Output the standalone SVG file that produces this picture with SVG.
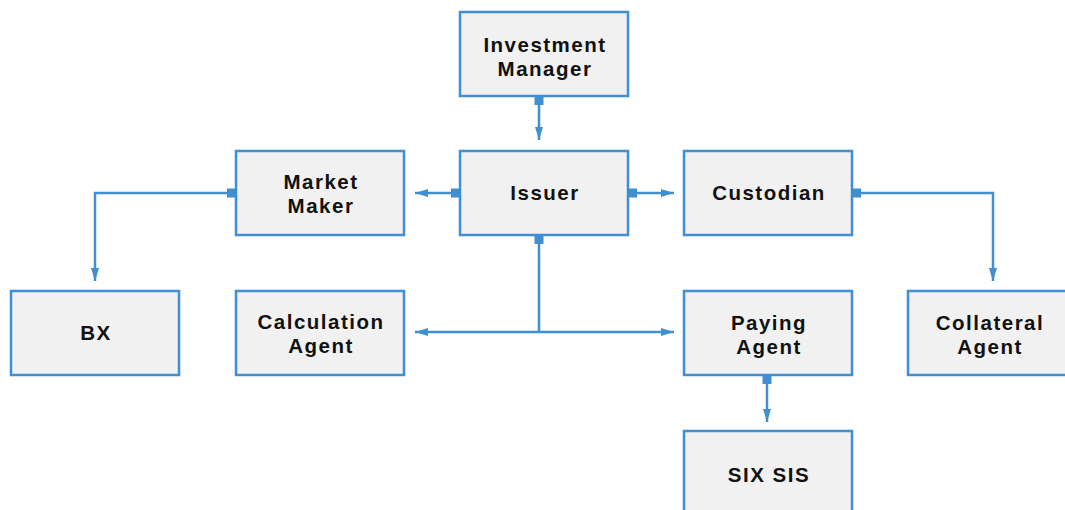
<svg xmlns="http://www.w3.org/2000/svg" width="1065" height="510" viewBox="0 0 1065 510">
<style>
.box{fill:#f1f1f1;stroke:#3f8fd2;stroke-width:2.5}
.t{font-family:"Liberation Sans",Arial,sans-serif;font-weight:bold;font-size:20.5px;letter-spacing:1.5px;fill:#111;text-anchor:middle}
.c{fill:none;stroke:#3f8fd2;stroke-width:2.5}
.sq{fill:#3f8fd2}
</style>
<defs>
<marker id="ah" markerUnits="userSpaceOnUse" markerWidth="14" markerHeight="10" refX="13" refY="5" orient="auto">
<path d="M0,1 L13,5 L0,9 Z" fill="#3f8fd2"/>
</marker>
</defs>
<rect width="1065" height="510" fill="#fff"/>
<g id="connectors">
<path class="c" d="M539,104 V140" marker-end="url(#ah)"/>
<path class="c" d="M451,193 H415" marker-end="url(#ah)"/>
<path class="c" d="M637,193 H674" marker-end="url(#ah)"/>
<path class="c" d="M539,244 V332"/>
<path class="c" d="M539,332 H415" marker-end="url(#ah)"/>
<path class="c" d="M539,332 H674" marker-end="url(#ah)"/>
<path class="c" d="M227,193 H95 V281" marker-end="url(#ah)"/>
<path class="c" d="M861,193 H993 V281" marker-end="url(#ah)"/>
<path class="c" d="M767,384 V422" marker-end="url(#ah)"/>
<rect class="sq" x="534.5" y="96" width="9" height="9"/>
<rect class="sq" x="451" y="188.5" width="9" height="9"/>
<rect class="sq" x="628" y="188.5" width="9" height="9"/>
<rect class="sq" x="534.5" y="235" width="9" height="9"/>
<rect class="sq" x="227" y="188.5" width="9" height="9"/>
<rect class="sq" x="852" y="188.5" width="9" height="9"/>
<rect class="sq" x="762.5" y="375" width="9" height="9"/>
</g>
<g id="investment-manager"><rect class="box" x="460" y="12" width="168" height="84"/><text class="t" x="545" y="52">Investment</text><text class="t" x="545" y="76">Manager</text></g>
<g id="issuer"><rect class="box" x="460" y="151" width="168" height="84"/><text class="t" x="545" y="200">Issuer</text></g>
<g id="market-maker"><rect class="box" x="236" y="151" width="168" height="84"/><text class="t" x="321" y="189">Market</text><text class="t" x="321" y="213">Maker</text></g>
<g id="custodian"><rect class="box" x="684" y="151" width="168" height="84"/><text class="t" x="769" y="200">Custodian</text></g>
<g id="bx"><rect class="box" x="11" y="291" width="168" height="84"/><text class="t" x="96" y="340">BX</text></g>
<g id="calculation-agent"><rect class="box" x="236" y="291" width="168" height="84"/><text class="t" x="321" y="329">Calculation</text><text class="t" x="321" y="353">Agent</text></g>
<g id="paying-agent"><rect class="box" x="684" y="291" width="168" height="84"/><text class="t" x="769" y="330">Paying</text><text class="t" x="769" y="354">Agent</text></g>
<g id="collateral-agent"><rect class="box" x="908" y="291" width="168" height="84"/><text class="t" x="990" y="330">Collateral</text><text class="t" x="990" y="354">Agent</text></g>
<g id="six-sis"><rect class="box" x="684" y="431" width="168" height="84"/><text class="t" x="769" y="482">SIX SIS</text></g>
</svg>
